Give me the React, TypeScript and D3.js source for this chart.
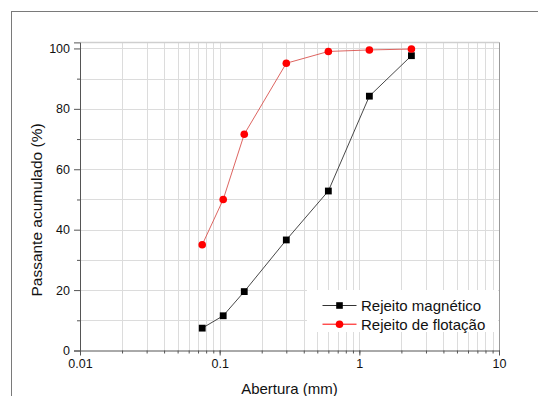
import React, { useEffect, useRef } from 'react'
import { select, scaleLog, scaleLinear, axisBottom, axisLeft, line, range } from 'd3'

// aberturas das peneiras (mm)
const aberturas = [0.075, 0.106, 0.15, 0.3, 0.6, 1.18, 2.36]
const rejeitoMagnetico = [7.4, 11.5, 19.5, 36.6, 52.8, 84.2, 97.6]
const rejeitoFlotacao = [35.0, 50.0, 71.6, 95.1, 99.0, 99.5, 99.8]
const xTicks = [0.01, 0.1, 1, 10]
const xTickLabels = ['0.01', '0.1', '1', '10']
const yTicks = [0, 20, 40, 60, 80, 100]
const legendNames = ['Rejeito magnético', 'Rejeito de flotação']

const App = () => {
    const svgRef = useRef<SVGSVGElement>(null)

    const width = 538
    const height = 396
    const margin = { top: 42.4, right: 39, bottom: 45.5, left: 80 }
    const font = '"Liberation Sans", Arial, sans-serif'

    useEffect(() => {
        const svg = select(svgRef.current)
        svg.selectAll('*').remove()

        const x = scaleLog().domain([0.01, 10]).range([margin.left, width - margin.right])
        const y = scaleLinear().domain([0, 102]).range([height - margin.bottom, margin.top])

        // moldura externa
        svg.append('rect')
            .attr('x', 11.5).attr('y', 11.5)
            .attr('width', 540).attr('height', 400)
            .attr('fill', '#fff').attr('stroke', '#7a7a7a')

        // grade
        const minorX: number[] = []
        ;[0.01, 0.1, 1].forEach(d => range(1, 10).forEach(k => minorX.push(d * k)))
        minorX.push(10)

        const grid = svg.append('g')
        grid.selectAll('.gx')
            .data(minorX)
            .enter().append('line')
            .attr('x1', d => Math.round(x(d)) + 0.5)
            .attr('x2', d => Math.round(x(d)) + 0.5)
            .attr('y1', y(102))
            .attr('y2', y(0))
            .attr('stroke', '#dcdcdc')

        grid.selectAll('.gy')
            .data(range(10, 110, 10))
            .enter().append('line')
            .attr('x1', x(0.01))
            .attr('x2', x(10))
            .attr('y1', d => Math.round(y(d)) + 0.5)
            .attr('y2', d => Math.round(y(d)) + 0.5)
            .attr('stroke', '#dcdcdc')

        // moldura superior e direita
        svg.append('line')
            .attr('x1', x(0.01)).attr('x2', x(10))
            .attr('y1', Math.round(y(102)) + 0.5).attr('y2', Math.round(y(102)) + 0.5)
            .attr('stroke', '#cfcfcf').attr('stroke-width', 1.5)
        svg.append('line')
            .attr('x1', Math.round(x(10)) + 0.5).attr('x2', Math.round(x(10)) + 0.5)
            .attr('y1', y(102)).attr('y2', y(0))
            .attr('stroke', '#9a9a9a')

        // eixos
        const xAxis = svg.append('g')
            .attr('transform', `translate(0, ${y(0)})`)
            .call(axisBottom(x).tickValues(minorX).tickSize(3).tickFormat(() => ''))
        xAxis.select('.domain').attr('stroke', '#555')
        xAxis.selectAll('.tick line').attr('stroke', '#555')

        const xMajor = svg.append('g')
            .attr('transform', `translate(0, ${y(0)})`)
            .call(axisBottom(x).tickValues(xTicks).tickSize(5).tickPadding(4)
                .tickFormat((d, i) => xTickLabels[i]))
        xMajor.select('.domain').remove()
        xMajor.selectAll('.tick line').attr('stroke', '#555')
        xMajor.selectAll('.tick text')
            .attr('fill', '#111').attr('font-size', 12.5).attr('font-family', font)

        const yMinor = svg.append('g')
            .attr('transform', `translate(${x(0.01)}, 0)`)
            .call(axisLeft(y).tickValues(range(10, 110, 20)).tickSize(3).tickFormat(() => ''))
        yMinor.select('.domain').remove()
        yMinor.selectAll('.tick line').attr('stroke', '#555')

        const yAxis = svg.append('g')
            .attr('transform', `translate(${x(0.01)}, 0)`)
            .call(axisLeft(y).tickValues(yTicks).tickSize(6).tickPadding(4))
        yAxis.select('.domain').attr('stroke', '#555')
        yAxis.selectAll('.tick line').attr('stroke', '#555')
        yAxis.selectAll('.tick text')
            .attr('fill', '#111').attr('font-size', 12.5).attr('font-family', font)

        // títulos dos eixos
        svg.append('text')
            .attr('x', (x(0.01) + x(10)) / 2)
            .attr('y', 394)
            .attr('text-anchor', 'middle')
            .attr('font-size', 15).attr('font-family', font).attr('fill', '#111')
            .text('Abertura (mm)')

        svg.append('text')
            .attr('transform', 'translate(41.5, 210) rotate(-90)')
            .attr('text-anchor', 'middle')
            .attr('font-size', 15.5).attr('font-family', font).attr('fill', '#111')
            .text('Passante acumulado (%)')

        // séries
        const mag = aberturas.map((d, i) => [d, rejeitoMagnetico[i]] as [number, number])
        const flo = aberturas.map((d, i) => [d, rejeitoFlotacao[i]] as [number, number])
        const path = line<[number, number]>().x(d => x(d[0])).y(d => y(d[1]))

        svg.append('path')
            .attr('d', path(mag))
            .attr('fill', 'none').attr('stroke', '#333').attr('stroke-width', 0.9)
        svg.selectAll('.sq')
            .data(mag)
            .enter().append('rect')
            .attr('x', d => x(d[0]) - 3.4)
            .attr('y', d => y(d[1]) - 3.4)
            .attr('width', 6.8).attr('height', 6.8)
            .attr('fill', '#000')

        svg.append('path')
            .attr('d', path(flo))
            .attr('fill', 'none').attr('stroke', '#d9534f').attr('stroke-width', 0.9)
        svg.selectAll('.ci')
            .data(flo)
            .enter().append('circle')
            .attr('cx', d => x(d[0]))
            .attr('cy', d => y(d[1]))
            .attr('r', 3.8)
            .attr('fill', '#ff0000')

        // legenda
        const legend = svg.append('g')
        legend.append('rect')
            .attr('x', 307).attr('y', 290)
            .attr('width', x(10) - 307 - 1).attr('height', 42)
            .attr('fill', '#fff')

        legendNames.forEach((name, i) => {
            const ly = 305.5 + i * 18.7
            legend.append('line')
                .attr('x1', 322.5).attr('x2', 356.5)
                .attr('y1', ly).attr('y2', ly)
                .attr('stroke', i === 0 ? '#333' : '#ff0000').attr('stroke-width', 1)
            if (i === 0) {
                legend.append('rect')
                    .attr('x', 339.5 - 3.3).attr('y', ly - 3.3)
                    .attr('width', 6.6).attr('height', 6.6)
                    .attr('fill', '#000')
            } else {
                legend.append('circle')
                    .attr('cx', 339.5).attr('cy', ly).attr('r', 3.8)
                    .attr('fill', '#ff0000')
            }
            legend.append('text')
                .attr('x', 361).attr('y', ly + 5.3)
                .attr('font-size', 15).attr('font-family', font).attr('fill', '#111')
                .text(name)
        })
    }, [])

    return (
        <svg ref={svgRef} width={width} height={height}
            style={{ position: 'absolute', left: 0, top: 0, background: '#fff' }} />
    )
}

export default App
